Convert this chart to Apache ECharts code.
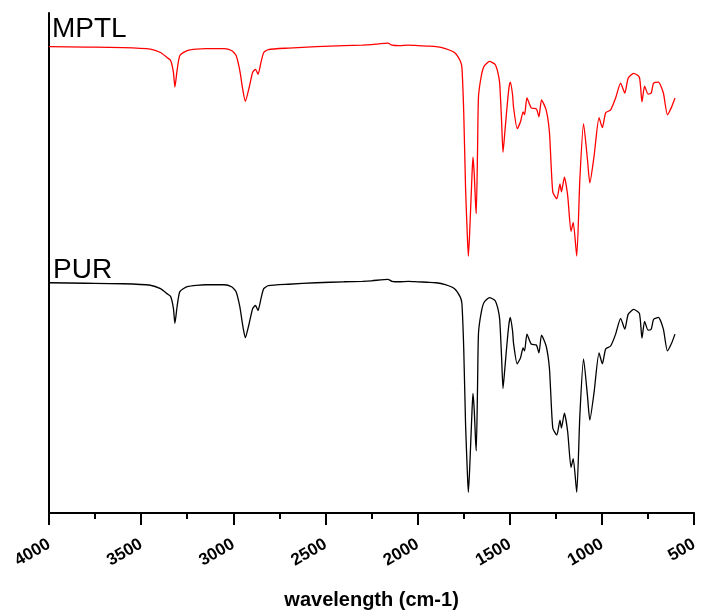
<!DOCTYPE html>
<html>
<head>
<meta charset="utf-8">
<script src="https://cdn.jsdelivr.net/npm/echarts@6/dist/echarts.min.js"></script>
<style>
html,body{margin:0;padding:0;background:#fff;overflow:hidden;}
#chart{width:701px;height:615px;}
</style>
</head>
<body>
<div id="chart"></div>
<script>
// wavenumber (cm-1)
var wavenumbers = [4000,3800,3600,3450,3395,3360,3340,3325,3317,3305,3290,3250,3150,3050,3010,2985,2965,2950,2935,2915,2895,2880,2866,2850,2835,2810,2700,2550,2400,2300,2250,2161,2140,2100,2050,2000,1950,1900,1850,1800,1770,1760,1750,1740,1730,1725,1718,1705,1700,1693,1686,1682,1675,1670,1655,1640,1610,1580,1565,1555,1545,1537,1528,1518,1505,1497,1485,1480,1460,1442,1428,1420,1407,1384,1356,1342,1328,1303,1285,1267,1245,1228,1220,1204,1186,1168,1156,1137,1120,1100,1079,1066,1043,1016,998,980,953,926,899,876,858,828,797,783,769,750,733,720,694,667,645,622,604];
// MPTL spectrum (offset, a.u.)
var mptl = [472,471.5,471,469.5,466,461,458,446,431,448,463,468,470,470,468,463,448,430,416.5,430,446,449,444,456,466,469,470.5,472,473,473.5,474,475.5,473.5,473,473.5,473,472.5,472,470,466,458,451,405,328,278,260,283,343,360,343,313,303,368,421,442,452,457,454,446,435,398,365,383,405,430,436,423,411,389,396,406,403,420,410,409,401,418,408,385,325,318,333,325,340,321,285,294,260,338,394,358,334,361,400,390,405,408,420,435,425,440,445,441,416,432,424,425,435,436,425,403,411,420];
// PUR spectrum (a.u.)
var pur = [233,232.5,232,230.5,227,222,219,207,192,209,224,229,231,231,229,224,209,191,177.5,191,207,210,205,217,227,230,231.5,233,234,234.5,235,236.5,234.5,234,234.5,234,233.5,233,231,227,219,212,166,89,39,21,44,104,121,104,74,63,129,182,203,213,218,215,207,196,159,126,144,166,191,198,184,172,151,157,167,164,181,171,170,162,180,169,146,86,79,94,86,101,82,46,55,21,99,156,119,94,122,162,151,166,169,181,197,186,201,206,202,177,194,185,186,196,198,186,164,172,181];
var seriesNames = ['MPTL','PUR'];
var xTitle = 'wavelength (cm-1)';

function pairs(ys){ return wavenumbers.map(function(w,i){ return [w, ys[i]]; }); }

var FONT = 'Liberation Sans, Arial, sans-serif';
var chart = echarts.init(document.getElementById('chart'), null, {renderer:'canvas'});
chart.setOption({
  animation:false,
  backgroundColor:'#fff',
  grid:{left:49,right:2.5,top:13,bottom:96,containLabel:false},
  xAxis:{
    type:'value', inverse:true, min:500, max:4000, interval:500,
    name:xTitle, nameLocation:'middle', nameGap:77,
    nameTextStyle:{fontFamily:FONT,fontWeight:'bold',fontSize:20,color:'#000'},
    axisLine:{show:true,onZero:false,lineStyle:{color:'#000',width:2}},
    axisTick:{show:true,inside:false,length:12,lineStyle:{color:'#000',width:2}},
    minorTick:{show:true,splitNumber:2,length:6,lineStyle:{color:'#000',width:2}},
    axisLabel:{rotate:30,margin:30,color:'#000',fontFamily:FONT,fontWeight:'bold',fontSize:17,
      formatter:function(v){return String(v);}},
    splitLine:{show:false}
  },
  yAxis:{
    type:'value', min:0, max:506,
    axisLine:{show:true,lineStyle:{color:'#000',width:2}},
    axisTick:{show:false}, axisLabel:{show:false}, splitLine:{show:false}
  },
  series:[
    {name:seriesNames[0],type:'line',data:pairs(mptl),showSymbol:false,symbol:'none',smooth:0.2,lineStyle:{color:'#ff0000',width:1.3},z:3},
    {name:seriesNames[1],type:'line',data:pairs(pur),showSymbol:false,symbol:'none',smooth:0.2,lineStyle:{color:'#000000',width:1.3},z:3}
  ],
  graphic:[
    {type:'text',left:52,top:15,style:{text:seriesNames[0],font:'28px "Liberation Sans", Arial, sans-serif',fill:'#000'}},
    {type:'text',left:53,top:256,style:{text:seriesNames[1],font:'28px "Liberation Sans", Arial, sans-serif',fill:'#000'}}
  ]
});
</script>
</body>
</html>
